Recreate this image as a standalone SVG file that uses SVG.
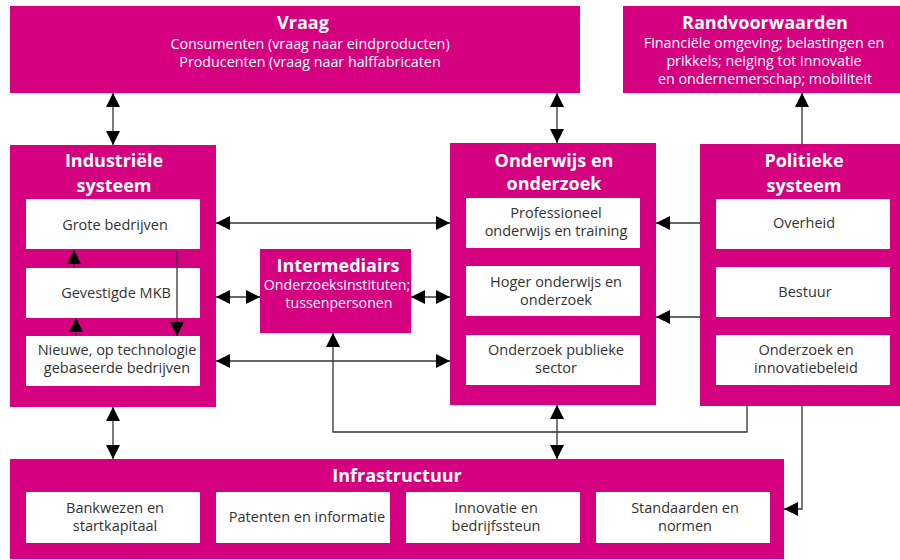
<svg xmlns="http://www.w3.org/2000/svg" width="900" height="560" viewBox="0 0 900 560">
<style>
.box{fill:#d5007f}
.in{fill:#ffffff}
.ttl{font-family:"Open Sans","Noto Sans",sans-serif;font-weight:bold;font-size:18px;fill:#ffffff;text-anchor:middle}
.sub{font-family:"Open Sans","Noto Sans",sans-serif;font-size:14.3px;fill:#ffffff;text-anchor:middle}
.lbl{font-family:"Open Sans","Noto Sans",sans-serif;font-size:14.5px;fill:#333333;text-anchor:middle}
.ln{fill:none;stroke:#333333;stroke-width:1.3}
</style>
<defs>
<marker id="ah" markerUnits="userSpaceOnUse" markerWidth="14" markerHeight="14" refX="14" refY="7" orient="auto-start-reverse">
<path d="M0,0 L14,7 L0,14 z" fill="#000000"/>
</marker>
</defs>
<rect width="900" height="560" fill="#ffffff"/>

<g id="vraag">
<rect class="box" x="10" y="6" width="570" height="87"/>
<text class="ttl" x="303" y="29">Vraag</text>
<text class="sub" x="310" y="49">Consumenten (vraag naar eindproducten)</text>
<text class="sub" x="310" y="67">Producenten (vraag naar halffabricaten</text>
</g>

<g id="randvoorwaarden">
<rect class="box" x="623" y="6" width="277" height="87"/>
<text class="ttl" x="765" y="29">Randvoorwaarden</text>
<text class="sub" x="764" y="48">Financiële omgeving; belastingen en</text>
<text class="sub" x="764" y="66">prikkels; neiging tot innovatie</text>
<text class="sub" x="765" y="84">en ondernemerschap; mobiliteit</text>
</g>

<g id="industriele">
<rect class="box" x="10" y="145" width="206" height="262"/>
<text class="ttl" x="114" y="167">Industriële</text>
<text class="ttl" x="114" y="192">systeem</text>
<rect class="in" x="26" y="199" width="174" height="50"/>
<text class="lbl" x="115" y="230">Grote bedrijven</text>
<rect class="in" x="26" y="268" width="174" height="50"/>
<text class="lbl" x="116" y="298">Gevestigde MKB</text>
<rect class="in" x="26" y="336" width="174" height="50"/>
<text class="lbl" x="117" y="355">Nieuwe, op technologie</text>
<text class="lbl" x="117" y="373">gebaseerde bedrijven</text>
</g>

<g id="intermediairs">
<rect class="box" x="260" y="249" width="151" height="84"/>
<text class="ttl" x="338" y="272">Intermediairs</text>
<text class="sub" x="337" y="290" style="font-size:14.2px">Onderzoeksinstituten;</text>
<text class="sub" x="339" y="308" style="font-size:14.2px">tussenpersonen</text>
</g>

<g id="onderwijs">
<rect class="box" x="450" y="143" width="206" height="262"/>
<text class="ttl" x="554" y="167">Onderwijs en</text>
<text class="ttl" x="554" y="190">onderzoek</text>
<rect class="in" x="466" y="198" width="174" height="50"/>
<text class="lbl" x="556" y="218">Professioneel</text>
<text class="lbl" x="556" y="236">onderwijs en training</text>
<rect class="in" x="466" y="266" width="174" height="50"/>
<text class="lbl" x="556" y="287">Hoger onderwijs en</text>
<text class="lbl" x="556" y="305">onderzoek</text>
<rect class="in" x="466" y="335" width="174" height="50"/>
<text class="lbl" x="556" y="355">Onderzoek publieke</text>
<text class="lbl" x="556" y="373">sector</text>
</g>

<g id="politieke">
<rect class="box" x="700" y="144" width="200" height="262"/>
<text class="ttl" x="804" y="167">Politieke</text>
<text class="ttl" x="804" y="192">systeem</text>
<rect class="in" x="716" y="199" width="174" height="50"/>
<text class="lbl" x="804" y="228">Overheid</text>
<rect class="in" x="716" y="267" width="174" height="50"/>
<text class="lbl" x="805" y="297">Bestuur</text>
<rect class="in" x="716" y="335" width="174" height="50"/>
<text class="lbl" x="806" y="355">Onderzoek en</text>
<text class="lbl" x="806" y="373">innovatiebeleid</text>
</g>

<g id="infrastructuur">
<rect class="box" x="10" y="459" width="774" height="100"/>
<text class="ttl" x="397" y="482">Infrastructuur</text>
<rect class="in" x="26" y="492" width="174" height="51"/>
<text class="lbl" x="115" y="513">Bankwezen en</text>
<text class="lbl" x="115" y="531">startkapitaal</text>
<rect class="in" x="216" y="492" width="174" height="51"/>
<text class="lbl" x="307" y="522">Patenten en informatie</text>
<rect class="in" x="406" y="492" width="174" height="51"/>
<text class="lbl" x="496" y="513">Innovatie en</text>
<text class="lbl" x="496" y="531">bedrijfssteun</text>
<rect class="in" x="596" y="492" width="174" height="51"/>
<text class="lbl" x="685" y="513">Standaarden en</text>
<text class="lbl" x="685" y="531">normen</text>
</g>

<g id="connectors">
<line class="ln" x1="113" y1="93" x2="113" y2="145" marker-start="url(#ah)" marker-end="url(#ah)"/>
<line class="ln" x1="557" y1="93" x2="557" y2="143" marker-start="url(#ah)" marker-end="url(#ah)"/>
<line class="ln" x1="802" y1="144" x2="802" y2="93" marker-end="url(#ah)"/>
<line class="ln" x1="216" y1="223" x2="450" y2="223" marker-start="url(#ah)" marker-end="url(#ah)"/>
<line class="ln" x1="216" y1="297" x2="260" y2="297" marker-start="url(#ah)" marker-end="url(#ah)"/>
<line class="ln" x1="411" y1="297" x2="450" y2="297" marker-start="url(#ah)" marker-end="url(#ah)"/>
<line class="ln" x1="216" y1="361" x2="450" y2="361" marker-start="url(#ah)" marker-end="url(#ah)"/>
<line class="ln" x1="700" y1="223" x2="656" y2="223" marker-end="url(#ah)"/>
<line class="ln" x1="700" y1="317" x2="656" y2="317" marker-end="url(#ah)"/>
<line class="ln" x1="113" y1="407" x2="113" y2="459" marker-start="url(#ah)" marker-end="url(#ah)"/>
<line class="ln" x1="557" y1="405" x2="557" y2="459" marker-start="url(#ah)" marker-end="url(#ah)"/>
<path class="ln" d="M747,406 V432 H333 V333" marker-end="url(#ah)"/>
<path class="ln" d="M802,406 V509 H784" marker-end="url(#ah)"/>
<line class="ln" x1="74" y1="268" x2="74" y2="250" marker-end="url(#ah)"/>
<line class="ln" x1="76" y1="336" x2="76" y2="318" marker-end="url(#ah)"/>
<line class="ln" x1="177" y1="251" x2="177" y2="336" marker-end="url(#ah)"/>
</g>
</svg>
